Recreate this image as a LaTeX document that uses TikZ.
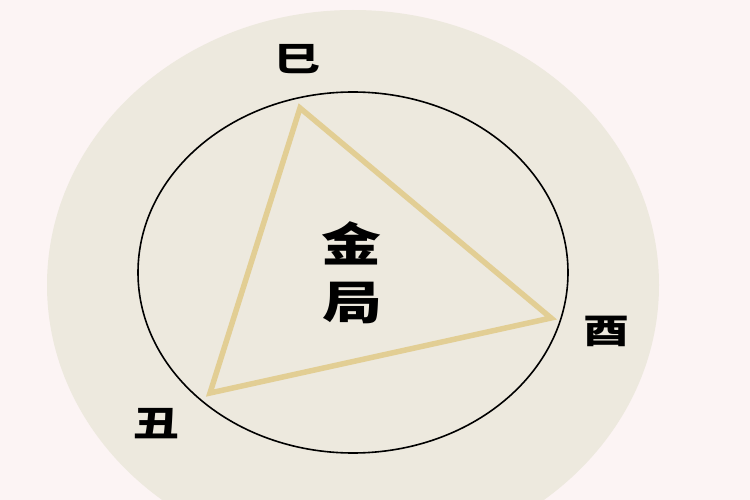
\documentclass[tikz,border=0pt]{standalone}
\usepackage{fontspec}
\newfontfamily\cjk{Noto Sans CJK SC}
\definecolor{bgpink}{RGB}{252,244,244}
\definecolor{discbeige}{RGB}{237,233,222}
\definecolor{trigold}{RGB}{226,206,148}

\begin{document}
\begin{tikzpicture}[
  x=1pt, y=-1pt,
  zhi/.style={font=\cjk\bfseries\fontsize{34}{34}\selectfont, xscale=1.35, inner sep=0pt},
  ju/.style={font=\cjk\bfseries\fontsize{46}{46}\selectfont, xscale=1.3, inner sep=0pt}
]
  \clip (0,0) rectangle (750,500);
  \fill[bgpink] (0,0) rectangle (750,500);
  \fill[discbeige] (353,285) ellipse [x radius=306, y radius=275];
  \draw[line width=1.6pt] (353,272.5) ellipse [x radius=215, y radius=180.5];

  % corners of the triangle
  \coordinate (si) at (300,108);
  \coordinate (you) at (551,318);
  \coordinate (chou) at (210,393);
  \draw[trigold, line width=5.5pt, line join=miter] (si) -- (you) -- (chou) -- cycle;

  \node[zhi] (siname) at (297,59) {巳};
  \node[zhi] (youname) at (606,331) {酉};
  \node[zhi] (chouname) at (156,424) {丑};
  \node[ju] (jin) at (351,243) {金};
  \node[ju] (ju) at (352,303) {局};
\end{tikzpicture}
\end{document}
